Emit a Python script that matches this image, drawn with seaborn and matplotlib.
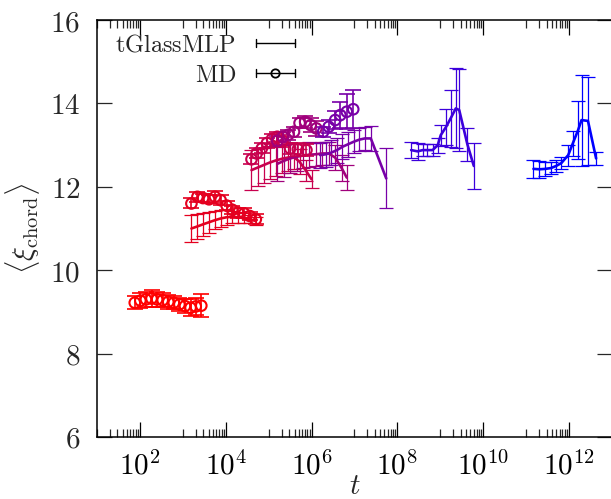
import numpy as np
import pandas as pd
import matplotlib
matplotlib.use("Agg")
import matplotlib.pyplot as plt
import seaborn as sns
from matplotlib.lines import Line2D
from matplotlib.legend_handler import HandlerBase
from matplotlib.ticker import FixedLocator, FixedFormatter, NullFormatter, NullLocator

# ---------------- data (log10 t, mean, error) ----------------
colors = ["#ff0000", "#e4001f", "#c8004e", "#a0007c", "#7800a8", "#3c00dc", "#0000ff"]

# MD (circles)
md_logt_1 = [1.88, 2.01, 2.14, 2.27, 2.40, 2.53, 2.66, 2.79, 2.92, 3.05, 3.18, 3.30, 3.43]
md_y_1    = [9.22, 9.27, 9.30, 9.32, 9.30, 9.28, 9.24, 9.22, 9.18, 9.14, 9.10, 9.13, 9.15]
md_e_1    = [0.15, 0.18, 0.18, 0.20, 0.18, 0.17, 0.17, 0.16, 0.16, 0.16, 0.20, 0.20, 0.28]

md_logt_2 = [3.20, 3.34, 3.47, 3.61, 3.75, 3.88, 4.02, 4.15, 4.29, 4.43, 4.56, 4.70]
md_y_2    = [11.60, 11.76, 11.73, 11.70, 11.76, 11.68, 11.55, 11.45, 11.38, 11.36, 11.30, 11.22]
md_e_2    = [0.12, 0.12, 0.10, 0.10, 0.14, 0.12, 0.10, 0.10, 0.12, 0.12, 0.10, 0.12]

md_logt_3 = [4.60, 4.72, 4.84, 4.96, 5.08, 5.20, 5.32, 5.50, 5.68, 5.88]
md_y_3    = [12.66, 12.80, 12.92, 13.05, 13.15, 13.20, 13.10, 12.92, 12.90, 12.88]
md_e_3    = [0.12, 0.12, 0.12, 0.12, 0.12, 0.12, 0.14, 0.14, 0.15, 0.15]

md_logt_4 = [5.20, 5.33, 5.46, 5.59, 5.72, 5.85, 5.98, 6.11]
md_y_4    = [13.10, 13.20, 13.25, 13.32, 13.53, 13.56, 13.48, 13.40]
md_e_4    = [0.12, 0.12, 0.12, 0.12, 0.12, 0.14, 0.16, 0.18]

md_logt_5 = [6.27, 6.40, 6.55, 6.67, 6.82, 6.97]
md_y_5    = [13.32, 13.44, 13.60, 13.72, 13.80, 13.86]
md_e_5    = [0.12, 0.16, 0.22, 0.32, 0.42, 0.46]

# tGlassMLP (lines)
ml_logt_2 = [3.20, 3.34, 3.47, 3.61, 3.75, 3.88, 4.02, 4.15, 4.29, 4.43, 4.56, 4.70]
ml_y_2    = [11.00, 11.05, 11.10, 11.15, 11.20, 11.24, 11.27, 11.28, 11.27, 11.25, 11.22, 11.18]
ml_e_2    = [0.33, 0.30, 0.28, 0.25, 0.22, 0.20, 0.18, 0.15, 0.13, 0.12, 0.10, 0.10]

ml_logt_3 = [4.60, 4.74, 4.88, 5.02, 5.16, 5.30, 5.44, 5.58, 5.72, 5.86, 6.00]
ml_y_3    = [12.40, 12.46, 12.52, 12.58, 12.63, 12.67, 12.70, 12.72, 12.60, 12.40, 12.18]
ml_e_3    = [0.48, 0.45, 0.42, 0.40, 0.38, 0.35, 0.33, 0.30, 0.30, 0.25, 0.22]

ml_logt_4 = [5.20, 5.35, 5.50, 5.65, 5.80, 5.95, 6.10, 6.25, 6.40, 6.55, 6.70, 6.82]
ml_y_4    = [12.55, 12.62, 12.68, 12.72, 12.75, 12.77, 12.78, 12.80, 12.80, 12.70, 12.45, 12.22]
ml_e_4    = [0.40, 0.38, 0.35, 0.33, 0.30, 0.30, 0.28, 0.28, 0.28, 0.30, 0.32, 0.30]

ml_logt_5 = [6.20, 6.33, 6.46, 6.59, 6.72, 6.85, 6.98, 7.11, 7.24, 7.38, 7.74]
ml_y_5    = [12.76, 12.78, 12.82, 12.88, 12.96, 13.02, 13.08, 13.13, 13.16, 13.16, 12.20]
ml_e_5    = [0.30, 0.30, 0.30, 0.30, 0.30, 0.30, 0.28, 0.28, 0.28, 0.30, 0.72]

ml_logt_6 = [8.32, 8.47, 8.59, 8.70, 8.82, 8.94, 9.01, 9.13, 9.24, 9.36, 9.44, 9.63, 9.78]
ml_y_6    = [12.88, 12.85, 12.88, 12.88, 12.88, 13.00, 13.24, 13.43, 13.64, 13.88, 13.84, 13.02, 12.50]
ml_e_6    = [0.20, 0.20, 0.15, 0.15, 0.15, 0.18, 0.25, 0.43, 0.68, 0.96, 0.98, 0.40, 0.56]

ml_logt_7 = [11.17, 11.31, 11.45, 11.58, 11.70, 11.82, 11.98, 12.09, 12.21, 12.29, 12.44, 12.63]
ml_y_7    = [12.43, 12.42, 12.43, 12.45, 12.50, 12.57, 12.76, 13.05, 13.36, 13.60, 13.58, 12.68]
ml_e_7    = [0.22, 0.20, 0.17, 0.15, 0.15, 0.15, 0.25, 0.30, 0.70, 1.09, 1.05, 0.15]

ml_groups = [(ml_logt_2, ml_y_2, ml_e_2, colors[1]),
             (ml_logt_3, ml_y_3, ml_e_3, colors[2]),
             (ml_logt_4, ml_y_4, ml_e_4, colors[3]),
             (ml_logt_5, ml_y_5, ml_e_5, colors[4]),
             (ml_logt_6, ml_y_6, ml_e_6, colors[5]),
             (ml_logt_7, ml_y_7, ml_e_7, colors[6])]
md_groups = [(md_logt_1, md_y_1, md_e_1, colors[0]),
             (md_logt_2, md_y_2, md_e_2, colors[1]),
             (md_logt_3, md_y_3, md_e_3, colors[2]),
             (md_logt_4, md_y_4, md_e_4, colors[3]),
             (md_logt_5, md_y_5, md_e_5, colors[4])]

xtick_exps = [2, 4, 6, 8, 10, 12]
ytick_vals = [6, 8, 10, 12, 14, 16]

# ---------------- style ----------------
sns.set_style("white")
plt.rcParams["mathtext.fontset"] = "cm"
plt.rcParams["font.family"] = ["DejaVu Serif"]

fig = plt.figure(figsize=(6.11, 4.99), dpi=100)
ax = fig.add_axes([97 / 611, 62 / 499, 515 / 611, 417 / 499])
ax.set_xscale("log")

for lt, y, e, c in ml_groups:
    df = pd.DataFrame({"t": 10 ** np.array(lt), "y": y, "e": e})
    ax.errorbar(df["t"], df["y"], yerr=df["e"], fmt="none", ecolor=c,
                elinewidth=0.9, capsize=5, capthick=0.9, zorder=2)
    sns.lineplot(data=df, x="t", y="y", color=c, lw=1.9, ax=ax,
                 estimator=None, sort=False, zorder=3)

for lt, y, e, c in md_groups:
    df = pd.DataFrame({"t": 10 ** np.array(lt), "y": y, "e": e})
    ax.errorbar(df["t"], df["y"], yerr=df["e"], fmt="none", ecolor=c,
                elinewidth=1.2, capsize=5.5, capthick=1.2, zorder=4)
    sns.scatterplot(data=df, x="t", y="y", marker="o", s=58, facecolor="none",
                    edgecolor=c, linewidth=1.5, ax=ax, zorder=5)

ax.set_xlim(10, 1e13)
ax.set_ylim(6, 16)

ax.xaxis.set_major_locator(FixedLocator([10.0 ** k for k in xtick_exps]))
ax.xaxis.set_major_formatter(FixedFormatter([r"$10^{%d}$" % k for k in xtick_exps]))
minor = [m * 10.0 ** k for k in (1, 3, 5, 7, 9, 11) for m in range(1, 10)] + [1e13]
ax.xaxis.set_minor_locator(FixedLocator(minor))
ax.xaxis.set_minor_formatter(NullFormatter())
ax.yaxis.set_major_locator(FixedLocator(ytick_vals))
ax.yaxis.set_major_formatter(FixedFormatter([r"$%d$" % v for v in ytick_vals]))
ax.yaxis.set_minor_locator(NullLocator())

ax.tick_params(axis="x", which="major", direction="in", length=11, width=0.9,
               top=True, bottom=True, labelsize=21, pad=10, colors="black")
ax.tick_params(axis="x", which="minor", direction="in", length=6, width=0.9,
               top=True, bottom=True)
ax.tick_params(axis="y", which="major", direction="in", length=11, width=0.9,
               left=True, right=True, labelsize=21, pad=12)
for s in ax.spines.values():
    s.set_color("black")
    s.set_linewidth(1.1)

ax.set_xlabel(r"$t$", fontsize=21, labelpad=-6)
ax.set_ylabel(r"$\langle\xi_{\rm chord}\rangle$", fontsize=21, labelpad=6)


class ErrKey(HandlerBase):
    def __init__(self, circle=False):
        super().__init__()
        self.circle = circle

    def create_artists(self, legend, orig_handle, xdescent, ydescent, width,
                       height, fontsize, trans):
        y = height / 2 - ydescent
        x0, x1 = -xdescent, width - xdescent
        lw = 1.0
        arts = [Line2D([x0, x1], [y, y], color="k", lw=lw),
                Line2D([x0, x0], [y - 3, y + 3], color="k", lw=lw),
                Line2D([x1, x1], [y - 3, y + 3], color="k", lw=lw)]
        if self.circle:
            arts.append(Line2D([(x0 + x1) / 2], [y], marker="o", ms=6,
                               mfc="none", mec="k", mew=1.3, ls="none"))
        for a in arts:
            a.set_transform(trans)
        return arts


h1, h2 = Line2D([], []), Line2D([], [])
ax.legend([h1, h2], [r"$\mathrm{tGlassMLP}$", r"$\mathrm{MD}$"],
          handler_map={h1: ErrKey(False), h2: ErrKey(True)},
          loc="upper right", bbox_to_anchor=(0.384, 0.968), frameon=False,
          markerfirst=False, fontsize=17.5, handlelength=1.6, handletextpad=0.8,
          borderpad=0, borderaxespad=0, labelspacing=0.3)

fig.savefig("out.png", dpi=100)
